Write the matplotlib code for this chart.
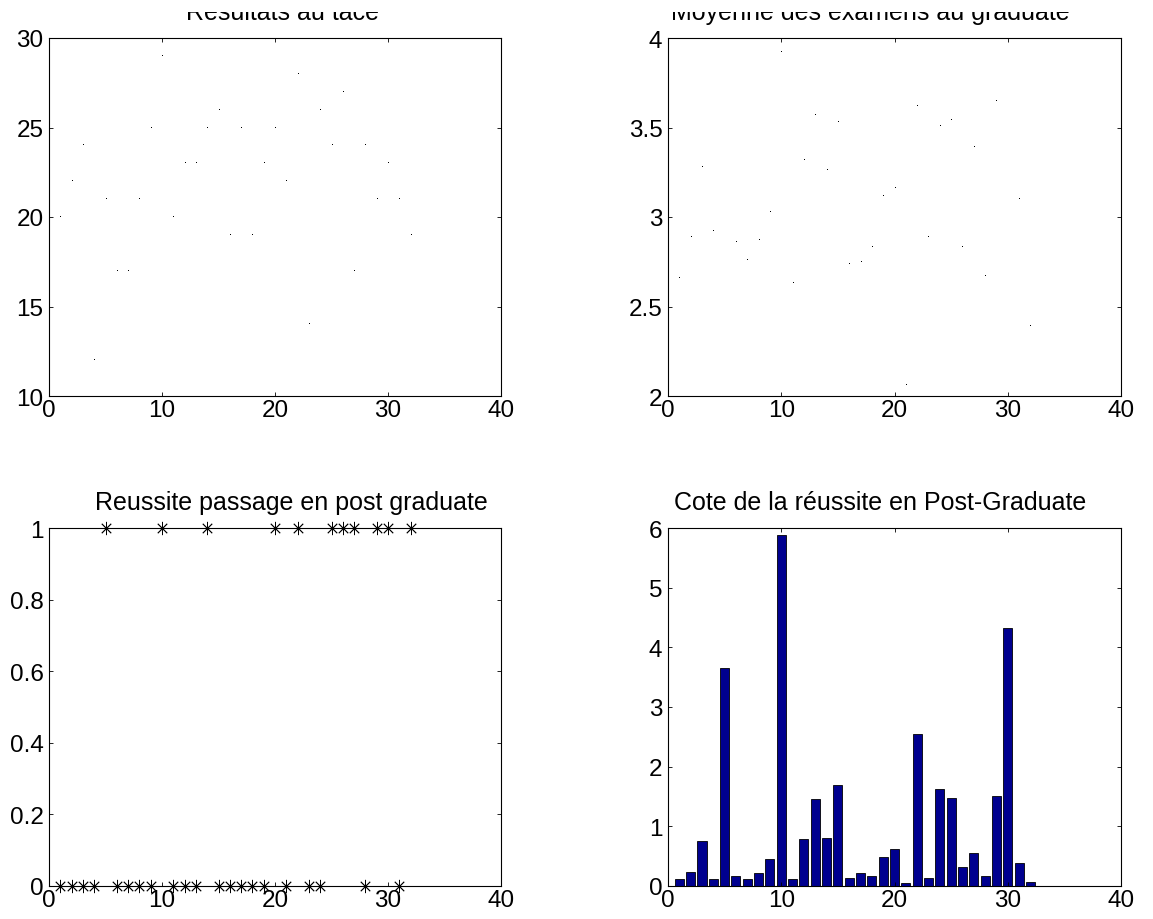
import matplotlib
matplotlib.use('Agg')
import matplotlib.pyplot as plt
import numpy as np
from matplotlib.ticker import FuncFormatter
from matplotlib.transforms import Bbox, TransformedBbox

plt.rcParams['font.family'] = ['Liberation Sans', 'DejaVu Sans']

# --- Donnees ---
etudiants = list(range(1, 33))
resultats_tace = [20, 22, 24, 12, 21, 17, 17, 21, 25, 29, 20, 23, 23, 25, 26, 19,
                  25, 19, 23, 25, 22, 28, 14, 26, 24, 27, 17, 24, 21, 23, 21, 19]
moyenne_graduate = [2.66, 2.89, 3.28, 2.92, 4.00, 2.86, 2.76, 2.87, 3.03, 3.92, 2.63, 3.32,
                    3.57, 3.26, 3.53, 2.74, 2.75, 2.83, 3.12, 3.16, 2.06, 3.62, 2.89, 3.51,
                    3.54, 2.83, 3.39, 2.67, 3.65, 4.00, 3.10, 2.39]
reussite = [0, 0, 0, 0, 1, 0, 0, 0, 0, 1, 0, 0, 0, 1, 0, 0,
            0, 0, 0, 1, 0, 1, 0, 0, 1, 1, 1, 0, 1, 1, 0, 1]
cote_reussite = [0.12, 0.24, 0.76, 0.12, 3.65, 0.16, 0.12, 0.22, 0.45, 5.88, 0.11, 0.78,
                 1.46, 0.80, 1.70, 0.13, 0.22, 0.17, 0.48, 0.62, 0.05, 2.54, 0.13, 1.62,
                 1.47, 0.32, 0.56, 0.17, 1.51, 4.33, 0.38, 0.06]

titres = ['Resultats au tace', 'Moyenne des examens au graduate',
          'Reussite passage en post graduate', 'Cote de la réussite en Post-Graduate']

W, H = 1153, 920
fig = plt.figure(figsize=(W / 100, H / 100), dpi=100)

def px_axes(x0, x1, ytop, ybot):
    return fig.add_axes([x0 / W, 1 - ybot / H, (x1 - x0) / W, (ybot - ytop) / H])

ax1 = px_axes(49, 501, 39, 397)
ax2 = px_axes(668, 1121, 39, 397)
ax3 = px_axes(49, 501, 529, 887)
ax4 = px_axes(668, 1121, 529, 887)

fmt = FuncFormatter(lambda v, p: '%g' % v)

def style(ax, ylim, yticks):
    ax.set_xlim(0, 40)
    ax.set_xticks([0, 10, 20, 30, 40])
    ax.set_ylim(*ylim)
    ax.set_yticks(yticks)
    ax.yaxis.set_major_formatter(fmt)
    ax.xaxis.set_major_formatter(fmt)
    ax.tick_params(direction='in', length=3, width=0.6, top=True, right=True,
                   labelsize=17.5, colors='black')
    ax.tick_params(axis='y', pad=4)
    ax.tick_params(axis='x', pad=2.5)
    for s in ax.spines.values():
        s.set_linewidth(0.8)
        s.set_color('black')

# haut gauche
ax1.plot(etudiants, resultats_tace, ',', color='black')
style(ax1, (10, 30), [10, 15, 20, 25, 30])

# haut droite
ax2.plot(etudiants, moyenne_graduate, ',', color='black')
style(ax2, (2, 4), [2, 2.5, 3, 3.5, 4])

# bas gauche
ax3.plot(etudiants, reussite, linestyle='none', marker=(8, 2, 0), markersize=9.5,
         markeredgewidth=0.6, color='black', clip_on=False, zorder=3)
style(ax3, (0, 1), [0, 0.2, 0.4, 0.6, 0.8, 1])

# bas droite
ax4.bar(etudiants, cote_reussite, width=0.8, color='#00008F', edgecolor='black', linewidth=0.6)
style(ax4, (0, 6), [0, 1, 2, 3, 4, 5, 6])

# titres (les deux du haut sont coupes par le bord de la capture)
centres = [(282 - 49) / 452, (870 - 668) / 453, (291 - 49) / 452, (880 - 668) / 453]
clip = TransformedBbox(Bbox([[0, 0], [1, 1 - 13 / H]]), fig.transFigure)
for ax, titre, cx in zip([ax1, ax2, ax3, ax4], titres, centres):
    t = ax.set_title(titre, fontsize=18, pad=13.5)
    t.set_x(cx)
    t.set_clip_box(clip)

fig.savefig('out.png', dpi=100)
